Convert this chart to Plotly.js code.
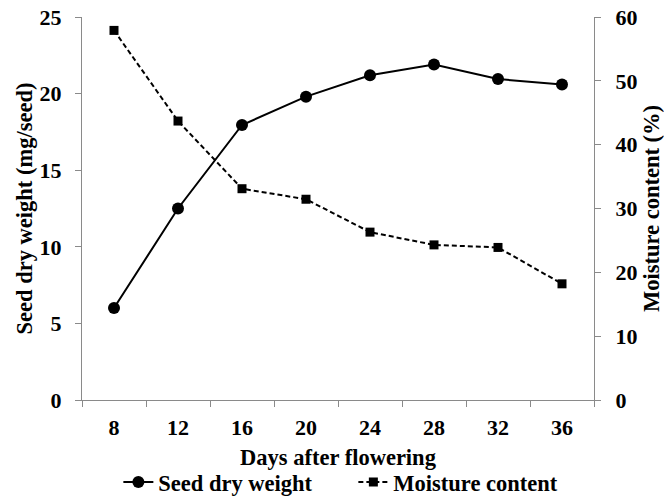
<!DOCTYPE html>
<html>
<head>
<meta charset="utf-8">
<script src="https://cdn.plot.ly/plotly-3.0.1.min.js"></script>
<style>html,body{margin:0;padding:0;background:#fff;}</style>
</head>
<body>
<div id="chart" style="width:664px;height:497px;"></div>
<script>
const days = ["8", "12", "16", "20", "24", "28", "32", "36"];
const seedDryWeight = [6.0, 12.5, 17.95, 19.8, 21.2, 21.9, 20.95, 20.6];
const moistureContent = [57.9, 43.7, 33.1, 31.45, 26.3, 24.3, 23.9, 18.2];
const leftTicks = [0, 5, 10, 15, 20, 25];
const rightTicks = [0, 10, 20, 30, 40, 50, 60];

const FONT = "'Liberation Serif', 'Times New Roman', serif";
const AXC = "#8a8a8a";

const traces = [
  {
    x: days, y: seedDryWeight, name: "Seed dry weight",
    type: "scatter", mode: "lines+markers",
    line: {color: "#000", width: 2},
    marker: {symbol: "circle", size: 12, color: "#000"},
    yaxis: "y", cliponaxis: false
  },
  {
    x: days, y: moistureContent, name: "Moisture content",
    type: "scatter", mode: "lines+markers",
    line: {color: "#000", width: 2, dash: "5px,3px"},
    marker: {symbol: "square", size: 9, color: "#000"},
    yaxis: "y2", cliponaxis: false
  }
];

const tickFont = {family: FONT, size: 22, color: "#000", weight: "bold"};
const titleFont = {family: FONT, size: 22.5, color: "#000", weight: "bold"};

const layout = {
  width: 664, height: 497,
  margin: {l: 82, r: 70, t: 17, b: 97, autoexpand: false},
  paper_bgcolor: "#fff", plot_bgcolor: "#fff",
  showlegend: true,
  legend: {
    orientation: "h", x: 0.53, xanchor: "center", y: -0.215, yanchor: "middle",
    font: {family: FONT, size: 22.5, color: "#000", weight: "bold"},
    entrywidth: 190, entrywidthmode: "pixels", tracegroupgap: 0
  },
  xaxis: {
    type: "category", range: [-0.5, 7.5], tickson: "boundaries",
    ticks: "outside", ticklen: 6, tickcolor: AXC, tickwidth: 1,
    showline: true, linecolor: AXC, linewidth: 1,
    showgrid: false, zeroline: false,
    tickfont: tickFont, ticklabelstandoff: 8,
    title: {text: "Days after flowering", font: titleFont, standoff: 9}
  },
  yaxis: {
    range: [0, 25], tickvals: leftTicks, ticktext: leftTicks.map(String),
    ticks: "outside", ticklen: 6, tickcolor: AXC, tickwidth: 1,
    showline: true, linecolor: AXC, linewidth: 1,
    showgrid: false, zeroline: false,
    tickfont: tickFont, ticklabelstandoff: 9,
    title: {text: "Seed dry weight (mg/seed)", font: titleFont, standoff: 0}
  },
  yaxis2: {
    overlaying: "y", side: "right",
    range: [0, 60], tickvals: rightTicks, ticktext: rightTicks.map(String),
    ticks: "outside", ticklen: 6, tickcolor: AXC, tickwidth: 1,
    showline: true, linecolor: AXC, linewidth: 1,
    showgrid: false, zeroline: false,
    tickfont: tickFont, ticklabelstandoff: 10,
    title: {text: "Moisture content (%)", font: titleFont, standoff: 8}
  }
};

Plotly.newPlot("chart", traces, layout, {displayModeBar: false, staticPlot: true});
</script>
</body>
</html>
